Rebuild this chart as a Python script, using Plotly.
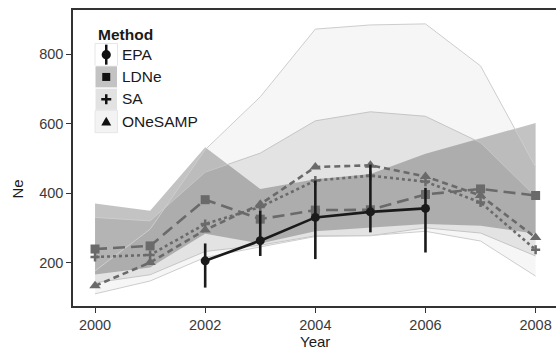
import plotly.graph_objects as go

# ---------------- data ----------------
years = [2000, 2001, 2002, 2003, 2004, 2005, 2006, 2007, 2008]

epa_years = [2002, 2003, 2004, 2005, 2006]
epa_ne = [205, 263, 330, 346, 356]
epa_lo = [128, 219, 210, 287, 229]
epa_hi = [255, 349, 436, 482, 415]

ldne_ne = [239, 248, 381, 325, 351, 352, 396, 412, 393]
ldne_lo = [166, 186, 283, 255, 290, 300, 311, 306, 283]
ldne_hi = [370, 349, 532, 412, 440, 455, 513, 557, 602]

sa_ne = [216, 222, 311, 360, 436, 450, 433, 373, 237]
sa_lo = [142, 165, 232, 250, 277, 277, 300, 285, 219]
sa_hi = [330, 320, 460, 515, 608, 634, 621, 545, 390]

onesamp_ne = [133, 200, 294, 368, 475, 480, 448, 393, 272]
onesamp_lo = [110, 147, 215, 245, 275, 278, 290, 262, 161]
onesamp_hi = [176, 296, 525, 677, 872, 884, 887, 766, 475]

x_ticks = [2000, 2002, 2004, 2006, 2008]
y_ticks = [200, 400, 600, 800]

methods = ["EPA", "LDNe", "SA", "ONeSAMP"]

# ---------------- figure ----------------
W, H = 556, 352
L, R, T, B = 73, 0, 10, 46
FONT = "Liberation Sans, Arial, sans-serif"

fig = go.Figure()

edge = "rgba(205,205,205,1)"
bands = [
    (ldne_lo, ldne_hi, "rgba(0,0,0,0.235)", "rgba(0,0,0,0)"),
    (sa_lo, sa_hi, "rgba(0,0,0,0.075)", edge),
    (onesamp_lo, onesamp_hi, "rgba(0,0,0,0.035)", edge),
]
for lo, hi, fillc, linec in bands:
    fig.add_trace(go.Scatter(
        x=years + years[::-1], y=hi + lo[::-1], mode="lines",
        fill="toself", fillcolor=fillc, line=dict(width=0),
        hoverinfo="skip", showlegend=False))
    for edge_y in (lo, hi):
        fig.add_trace(go.Scatter(
            x=years, y=edge_y, mode="lines",
            line=dict(color=linec, width=1), hoverinfo="skip", showlegend=False))

gray = "#6a6a6a"
fig.add_trace(go.Scatter(
    x=years, y=ldne_ne, mode="lines+markers", name="LDNe",
    line=dict(color=gray, width=2.6, dash="12px,6px"),
    marker=dict(symbol="square", size=9, color=gray), showlegend=False))
fig.add_trace(go.Scatter(
    x=years, y=sa_ne, mode="lines+markers", name="SA",
    line=dict(color=gray, width=2.6, dash="3px,3px"),
    marker=dict(symbol="cross-thin", size=6.5, color=gray,
                line=dict(color=gray, width=2.5)), showlegend=False))
fig.add_trace(go.Scatter(
    x=years, y=onesamp_ne, mode="lines+markers", name="ONeSAMP",
    line=dict(color=gray, width=2.6, dash="6px,4px"),
    marker=dict(symbol="triangle-up", size=10, color=gray), showlegend=False))

fig.add_trace(go.Scatter(
    x=epa_years, y=epa_ne, mode="lines+markers", name="EPA",
    line=dict(color="#1a1a1a", width=2.6),
    marker=dict(symbol="circle", size=9, color="#1a1a1a"),
    error_y=dict(type="data", symmetric=False,
                 array=[h - v for h, v in zip(epa_hi, epa_ne)],
                 arrayminus=[v - l for l, v in zip(epa_lo, epa_ne)],
                 width=0, thickness=2.6, color="#1a1a1a"),
    showlegend=False))

# ---------------- manual legend (pixel -> paper) ----------------
pw, ph = W - L - R, H - T - B


def px(x):
    return (x - L) / pw


def py(y):
    return (H - B - y) / ph


shapes = []
annotations = []
key_fill = ["#ffffff", "#c3c3c3", "#e2e2e2", "#f3f3f3"]
key_top = [43.5, 65.8, 88.1, 110.4]
kh = 22.3
kx0, kx1 = 95, 117.5
cx = (kx0 + kx1) / 2
for i, m in enumerate(methods):
    y0 = key_top[i]
    shapes.append(dict(type="rect", xref="paper", yref="paper",
                       x0=px(kx0), x1=px(kx1), y0=py(y0 + kh), y1=py(y0),
                       fillcolor=key_fill[i],
                       line=dict(color="#e6e6e6" if i in (0, 3) else "#ffffff", width=1),
                       layer="above"))
    cy = y0 + kh / 2
    annotations.append(dict(text=m, xref="paper", yref="paper", x=px(119.5), y=py(cy - 0.5),
                            xanchor="left", yanchor="middle", showarrow=False,
                            font=dict(family=FONT, size=15.5, color="#1a1a1a")))
    k = "#111111"
    if m == "EPA":
        shapes.append(dict(type="line", xref="paper", yref="paper",
                           x0=px(cx), x1=px(cx), y0=py(cy - 10), y1=py(cy + 10),
                           line=dict(color=k, width=2.5), layer="above"))
        shapes.append(dict(type="circle", xref="paper", yref="paper",
                           x0=px(cx - 4.6), x1=px(cx + 4.6), y0=py(cy + 4.6), y1=py(cy - 4.6),
                           fillcolor=k, line=dict(color=k, width=0), layer="above"))
    elif m == "LDNe":
        shapes.append(dict(type="rect", xref="paper", yref="paper",
                           x0=px(cx - 4), x1=px(cx + 4), y0=py(cy + 4), y1=py(cy - 4),
                           fillcolor=k, line=dict(width=0), layer="above"))
    elif m == "SA":
        shapes.append(dict(type="line", xref="paper", yref="paper",
                           x0=px(cx - 5), x1=px(cx + 5), y0=py(cy), y1=py(cy),
                           line=dict(color=k, width=2.5), layer="above"))
        shapes.append(dict(type="line", xref="paper", yref="paper",
                           x0=px(cx), x1=px(cx), y0=py(cy - 5), y1=py(cy + 5),
                           line=dict(color=k, width=2.5), layer="above"))
    else:
        path = "M {} {} L {} {} L {} {} Z".format(
            px(cx), py(cy - 4.8), px(cx - 5), py(cy + 4), px(cx + 5), py(cy + 4))
        shapes.append(dict(type="path", xref="paper", yref="paper", path=path,
                           fillcolor=k, line=dict(width=0), layer="above"))

annotations.append(dict(text="<b>Method</b>", xref="paper", yref="paper", x=px(95.5), y=py(35),
                        xanchor="left", yanchor="middle", showarrow=False,
                        font=dict(family=FONT, size=15.5, color="#1a1a1a")))
annotations.append(dict(text="Year", xref="paper", yref="paper", x=px(315), y=py(341),
                        xanchor="center", yanchor="middle", showarrow=False,
                        font=dict(family=FONT, size=15, color="#1a1a1a")))
annotations.append(dict(text="Ne", xref="paper", yref="paper", x=px(16.5), y=py(189),
                        xanchor="center", yanchor="middle", showarrow=False, textangle=-90,
                        font=dict(family=FONT, size=15, color="#1a1a1a")))

axis_col = "#333333"
fig.update_layout(
    width=W, height=H, margin=dict(l=L, r=R, t=T, b=B, pad=0),
    paper_bgcolor="white", plot_bgcolor="white",
    showlegend=False,
    shapes=shapes, annotations=annotations,
    xaxis=dict(range=[1999.6, 2008.37], tickvals=x_ticks, ticks="outside", ticklen=5,
               tickwidth=1.2, tickcolor=axis_col, showgrid=False, zeroline=False,
               showline=True, linecolor=axis_col, linewidth=1.5, mirror=True,
               tickfont=dict(family=FONT, size=14.5, color="#3a3a3a")),
    yaxis=dict(range=[75, 927], tickvals=y_ticks, ticks="outside", ticklen=5,
               tickwidth=1.2, tickcolor=axis_col, showgrid=False, zeroline=False,
               showline=True, linecolor=axis_col, linewidth=1.5, mirror=False,
               tickfont=dict(family=FONT, size=14.5, color="#3a3a3a")),
)

fig.write_html("out.html")
